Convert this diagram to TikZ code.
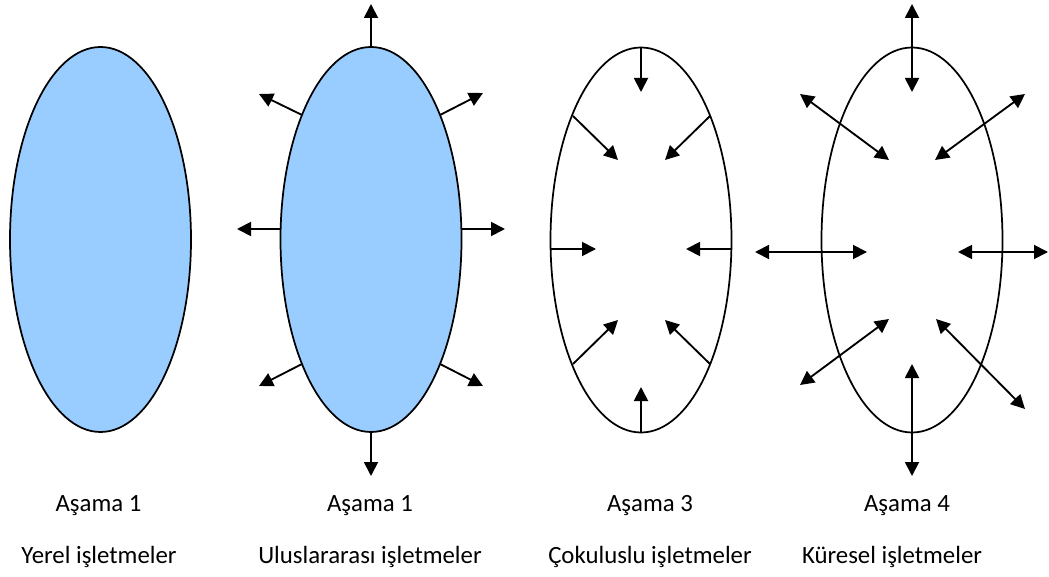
\documentclass[tikz,border=0pt]{standalone}
\usepackage{fontspec}
\setmainfont{Carlito}
\usetikzlibrary{arrows.meta,shapes.geometric}
\definecolor{stagefill}{HTML}{99CCFF}
\tikzset{
  stage/.style={ellipse,draw=black,line width=1.3pt,inner sep=0pt,
    minimum width=135.75pt,minimum height=288.75pt},
  arr/.style={line width=1.4pt,-{Triangle[length=10.5pt,width=10.5pt]}},
  darr/.style={line width=1.4pt,{Triangle[length=10.5pt,width=10.5pt]}-{Triangle[length=10.5pt,width=10.5pt]}},
  lbl/.style={anchor=base,inner sep=0pt,font=\fontsize{18.6}{22}\selectfont}
}
\begin{document}
\begin{tikzpicture}[x=0.75pt,y=-0.75pt]
\useasboundingbox (0,0) rectangle (1049,577);

% stage 1: local firms
\node[stage,fill=stagefill] (e1) at (100.5,239.5) {};

% stage 2: international firms, arrows pointing outwards
\node[stage,fill=stagefill] (e2) at (371,239.5) {};
\coordinate (b2n) at (371,48);   \coordinate (t2n) at (371,4);
\coordinate (b2nw) at (302,115); \coordinate (t2nw) at (259,94);
\coordinate (b2ne) at (440,115); \coordinate (t2ne) at (483,93);
\coordinate (b2w) at (281,229);  \coordinate (t2w) at (237,229);
\coordinate (b2e) at (461,229);  \coordinate (t2e) at (505,229);
\coordinate (b2sw) at (302,364); \coordinate (t2sw) at (259,386);
\coordinate (b2se) at (440,364); \coordinate (t2se) at (483,386);
\coordinate (b2s) at (371,432);  \coordinate (t2s) at (371,476);
\foreach \d in {n,nw,ne,w,e,sw,se,s} \draw[arr] (b2\d) -- (t2\d);

% stage 3: multinational firms, arrows pointing inwards
\node[stage] (e3) at (641,240) {};
\coordinate (b3n) at (641,48);   \coordinate (t3n) at (641,92);
\coordinate (b3nw) at (573,116); \coordinate (t3nw) at (618,160);
\coordinate (b3ne) at (710,116); \coordinate (t3ne) at (665,160);
\coordinate (b3w) at (551,249);  \coordinate (t3w) at (596,249);
\coordinate (b3e) at (731,249);  \coordinate (t3e) at (686,249);
\coordinate (b3sw) at (573,364); \coordinate (t3sw) at (618,320);
\coordinate (b3se) at (710,364); \coordinate (t3se) at (665,320);
\coordinate (b3s) at (641,432);  \coordinate (t3s) at (641,387);
\foreach \d in {n,nw,ne,w,e,sw,se,s} \draw[arr] (b3\d) -- (t3\d);

% stage 4: global firms, two-way arrows
\node[stage] (e4) at (912,240) {};
\coordinate (a4n) at (912,4);    \coordinate (c4n) at (912,92);
\coordinate (a4nw) at (800,94);  \coordinate (c4nw) at (889,160);
\coordinate (a4ne) at (1025,94); \coordinate (c4ne) at (935,160);
\coordinate (a4w) at (755,252);  \coordinate (c4w) at (867,252);
\coordinate (a4e) at (1048,252); \coordinate (c4e) at (958,252);
\coordinate (a4sw) at (800,385); \coordinate (c4sw) at (889,319);
\coordinate (a4se) at (1025,409);\coordinate (c4se) at (936,319);
\coordinate (a4s) at (912,476);  \coordinate (c4s) at (912,364);
\foreach \d in {n,nw,ne,w,e,sw,se,s} \draw[darr] (a4\d) -- (c4\d);

% captions
\node[lbl] (s1) at (98.5,511) {Aşama 1};
\node[lbl] (s2) at (370,511) {Aşama 1};
\node[lbl] (s3) at (650,511) {Aşama 3};
\node[lbl] (s4) at (907,511) {Aşama 4};
\node[lbl] (k1) at (99,563) {Yerel işletmeler};
\node[lbl] (k2) at (370,563) {Uluslararası işletmeler};
\node[lbl] (k3) at (650,563) {Çokuluslu işletmeler};
\node[lbl] (k4) at (892,563) {Küresel işletmeler};
\end{tikzpicture}
\end{document}
